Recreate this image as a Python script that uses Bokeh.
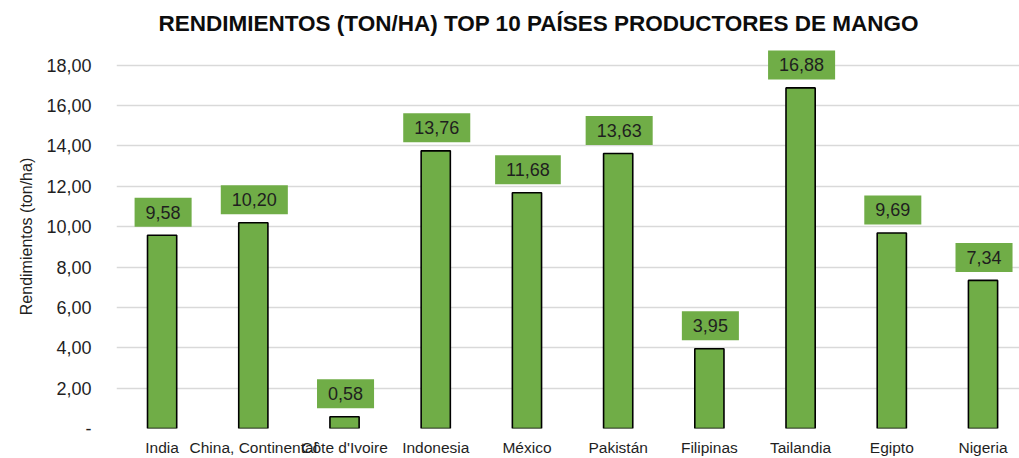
from bokeh.plotting import figure
from bokeh.models import ColumnDataSource, Range1d, FixedTicker, Title
from bokeh.core.properties import value
from bokeh.embed import file_html
from bokeh.resources import INLINE

paises = ["India", "China, Continental", "Côte d'Ivoire", "Indonesia", "México",
          "Pakistán", "Filipinas", "Tailandia", "Egipto", "Nigeria"]
rendimientos = [9.58, 10.20, 0.58, 13.76, 11.68, 13.63, 3.95, 16.88, 9.69, 7.34]
etiquetas = ["9,58", "10,20", "0,58", "13,76", "11,68", "13,63", "3,95", "16,88", "9,69", "7,34"]
y_ticks = [0, 2, 4, 6, 8, 10, 12, 14, 16, 18]
y_tick_labels = ["-", "2,00", "4,00", "6,00", "8,00", "10,00", "12,00", "14,00", "16,00", "18,00"]

FONT = "Liberation Sans"
GREEN = "#70AD47"
TXT = "#1F1F1F"

xs = [i + 0.5 for i in range(len(paises))]
src = ColumnDataSource(dict(x=xs, y=rendimientos, lab=etiquetas))

p = figure(width=1019, height=458, output_backend="svg", toolbar_location=None,
           x_range=Range1d(0, 9.90), y_range=Range1d(0, 19.03),
           min_border_left=116, min_border_right=0, min_border_bottom=27, min_border_top=43)
p.title = Title(text="RENDIMIENTOS (TON/HA) TOP 10  PAÍSES PRODUCTORES DE MANGO",
                align="left", offset=42, text_font=FONT, text_font_size="22.5px",
                text_font_style="bold", text_color="#0D0D0D", standoff=17)
p.outline_line_color = None
p.background_fill_color = "white"
p.border_fill_color = "white"

p.vbar(x="x", top="y", width=0.32, bottom=0, source=src,
       fill_color=GREEN, line_color="black", line_width=1.6)

p.text(x="x", y="y", text="lab", source=src, text_align="center",
       text_baseline="bottom", y_offset=-8.5, x_offset=1,
       text_font=value(FONT), text_font_size="18px", text_color=TXT,
       background_fill_color=GREEN, padding=(11, 8))

# axes
p.xgrid.grid_line_color = None
p.ygrid.grid_line_color = "#D9D9D9"
p.ygrid.grid_line_width = 1.5
p.ygrid.ticker = FixedTicker(ticks=y_ticks)

p.yaxis.ticker = FixedTicker(ticks=y_ticks)
p.yaxis.major_label_overrides = {t: l for t, l in zip(y_ticks, y_tick_labels)}
p.yaxis.axis_line_color = None
p.yaxis.major_tick_line_color = None
p.yaxis.minor_tick_line_color = None
p.yaxis.major_label_standoff = 19
p.yaxis.major_label_text_font = FONT
p.yaxis.major_label_text_font_size = "18px"
p.yaxis.major_label_text_color = TXT
p.yaxis.axis_label = "Rendimientos (ton/ha)"
p.yaxis.axis_label_text_font = FONT
p.yaxis.axis_label_text_font_size = "16px"
p.yaxis.axis_label_text_font_style = "normal"
p.yaxis.axis_label_text_color = TXT
p.yaxis.axis_label_standoff = 8

p.xaxis.ticker = FixedTicker(ticks=xs)
p.xaxis.major_label_overrides = {x: n for x, n in zip(xs, paises)}
p.xaxis.axis_line_color = None
p.xaxis.major_tick_line_color = None
p.xaxis.minor_tick_line_color = None
p.xaxis.major_label_standoff = 4
p.xaxis.major_label_text_font = FONT
p.xaxis.major_label_text_font_size = "15.5px"
p.xaxis.major_label_text_color = TXT

open("out.html", "w").write(file_html(p, INLINE))
